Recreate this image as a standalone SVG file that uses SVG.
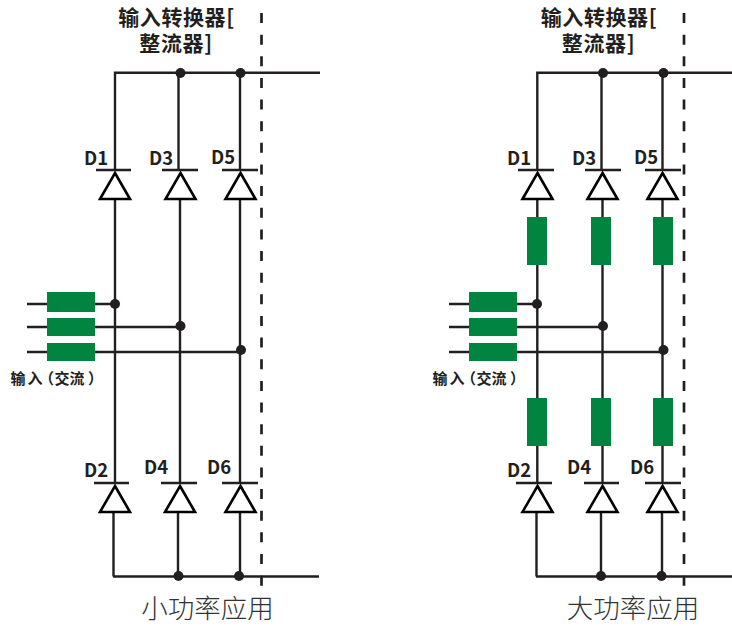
<svg xmlns="http://www.w3.org/2000/svg" width="732" height="626" viewBox="0 0 732 626">
<style>
.w{fill:none;stroke:#231f20;stroke-width:2.4}
.dash{fill:none;stroke:#231f20;stroke-width:2.7;stroke-dasharray:10 11.64}
.dot{fill:#231f20}
.g{fill:#00843f}
.tri{fill:#fff;stroke:#000;stroke-width:2.6}
text{font-family:"Noto Sans CJK SC","Noto Sans",sans-serif;fill:#231f20}
.t{font-size:21px;font-weight:700;letter-spacing:0.6px}
.d{font-size:18.500px;font-weight:700}
.i{font-size:15px;font-weight:700}
.c{font-size:26.500px;font-weight:300;fill:#333}
</style>
<rect width="732" height="626" fill="#fff"/>
<g id="connectors">
<path class="dash" d="M261.5 13V587"/>
<path class="w" d="M320 72.7H115V170M178.5 72.7V170M240 72.7V170"/>
<path class="w" d="M115 199V483M180 199V483M240 199V483"/>
<path class="w" d="M27 304H115M27 327H180M27 352H240"/>
<path class="w" d="M113.5 512V576.5M178 512V576.5M240 512V576.5M113 576.5H319"/>
<path class="dash" d="M684 13V587"/>
<path class="w" d="M732 72.7H537.3V170M601.5 72.7V170M662.5 72.7V170"/>
<path class="w" d="M537.3 199V483M602.5 199V483M662.5 199V483"/>
<path class="w" d="M449 304H537M449 327H603M449 352H663"/>
<path class="w" d="M536.5 512V576.5M601 512V576.5M662 512V576.5M536 576.5H732"/>
</g>
<g id="left-input">
<rect class="g" x="47" y="292" width="48" height="20"/><rect class="g" x="47" y="318" width="48" height="18"/><rect class="g" x="47" y="343" width="48" height="18"/>
<circle class="dot" cx="115" cy="304" r="5"/><circle class="dot" cx="180.500" cy="326" r="5"/><circle class="dot" cx="241" cy="350" r="5"/>
<circle class="dot" cx="180.500" cy="73" r="5"/><circle class="dot" cx="240.500" cy="73" r="5"/>
<circle class="dot" cx="178.500" cy="576" r="5"/><circle class="dot" cx="239" cy="576" r="5"/>
<text class="i" x="10.500 27.500 39 54.500 69.500 88" y="384">输入（交流）</text>
</g>
<g id="left-title"><text class="t" x="176.500" y="25" text-anchor="middle">输入转换器[</text><text class="t" x="176" y="51" text-anchor="middle">整流器]</text></g>
<g id="D1"><path class="w" d="M96 170H131"/><path class="tri" d="M115 173L130 199H100Z"/><text class="d" x="84" y="165">D1</text></g>
<g id="D3"><path class="w" d="M162 170H198"/><path class="tri" d="M180.500 173L195.500 199H165.500Z"/><text class="d" x="149" y="165">D3</text></g>
<g id="D5"><path class="w" d="M222 170H258"/><path class="tri" d="M240.500 173L255.500 199H225.500Z"/><text class="d" x="211" y="164">D5</text></g>
<g id="D2"><path class="w" d="M94 483H129"/><path class="tri" d="M115 486L130 512H100Z"/><text class="d" x="84" y="477">D2</text></g>
<g id="D4"><path class="w" d="M161 483H197"/><path class="tri" d="M180 486L195 512H165Z"/><text class="d" x="144" y="474">D4</text></g>
<g id="D6"><path class="w" d="M222 483H258"/><path class="tri" d="M240.500 486L255.500 512H225.500Z"/><text class="d" x="207" y="474">D6</text></g>
<text class="c" id="left-caption" x="207.500" y="618.400" text-anchor="middle">小功率应用</text>
<g id="right-input">
<rect class="g" x="469" y="292" width="48" height="20"/><rect class="g" x="469" y="318" width="48" height="18"/><rect class="g" x="469" y="343" width="48" height="18"/>
<circle class="dot" cx="537" cy="304" r="5"/><circle class="dot" cx="603" cy="326" r="5"/><circle class="dot" cx="663.500" cy="350" r="5"/>
<circle class="dot" cx="603" cy="73" r="5"/><circle class="dot" cx="663.500" cy="73" r="5"/>
<circle class="dot" cx="601" cy="576" r="5"/><circle class="dot" cx="661.500" cy="576" r="5"/>
<text class="i" x="432.500 449.500 461 476.500 491.500 510" y="384">输入（交流）</text>
</g>
<g id="right-reactors">
<rect class="g" x="527" y="217" width="20" height="48"/><rect class="g" x="591" y="217" width="20" height="48"/><rect class="g" x="653" y="217" width="20" height="48"/>
<rect class="g" x="527" y="398" width="20" height="48"/><rect class="g" x="591" y="398" width="20" height="48"/><rect class="g" x="653" y="398" width="20" height="48"/>
</g>
<g id="right-title"><text class="t" x="599" y="25" text-anchor="middle">输入转换器[</text><text class="t" x="598.500" y="51" text-anchor="middle">整流器]</text></g>
<g id="R-D1"><path class="w" d="M518 170H554"/><path class="tri" d="M537.500 173L552.500 199H522.500Z"/><text class="d" x="507" y="165">D1</text></g>
<g id="R-D3"><path class="w" d="M585 170H621"/><path class="tri" d="M602.500 173L617.500 199H587.500Z"/><text class="d" x="572" y="165">D3</text></g>
<g id="R-D5"><path class="w" d="M645 170H681"/><path class="tri" d="M662.500 173L677.500 199H647.500Z"/><text class="d" x="634" y="164">D5</text></g>
<g id="R-D2"><path class="w" d="M516 483H552"/><path class="tri" d="M537.500 486L552.500 512H522.500Z"/><text class="d" x="507" y="477">D2</text></g>
<g id="R-D4"><path class="w" d="M584 483H619"/><path class="tri" d="M602.500 486L617.500 512H587.500Z"/><text class="d" x="567" y="474">D4</text></g>
<g id="R-D6"><path class="w" d="M645 483H681"/><path class="tri" d="M662.500 486L677.500 512H647.500Z"/><text class="d" x="630" y="474">D6</text></g>
<text class="c" id="right-caption" x="633" y="618.400" text-anchor="middle">大功率应用</text>
</svg>
